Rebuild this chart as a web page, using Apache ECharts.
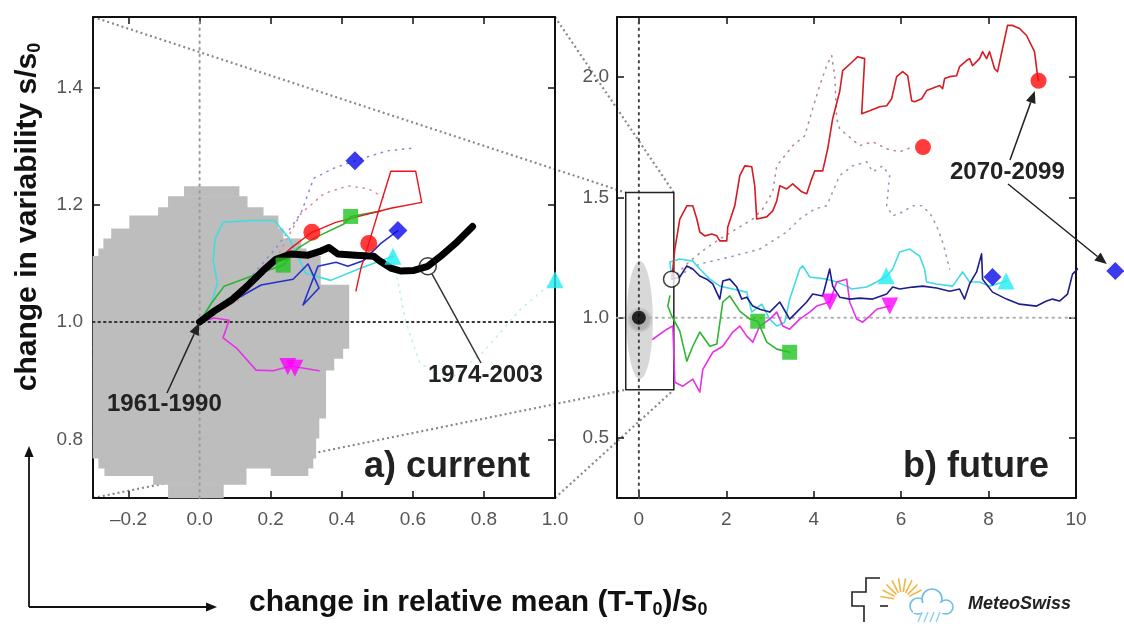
<!DOCTYPE html>
<html><head><meta charset="utf-8">
<script src="https://cdn.jsdelivr.net/npm/echarts@6/dist/echarts.min.js"></script>
<style>html,body{margin:0;padding:0;background:#fff}#c{width:1124px;height:624px}</style>
</head><body><div id="c"></div>
<script>
// ================= DATA =================
const leftXTicks = [-0.2, 0.0, 0.2, 0.4, 0.6, 0.8, 1.0];
const leftYTicks = [0.8, 1.0, 1.2, 1.4];
const rightXTicks = [0, 2, 4, 6, 8, 10];
const rightYTicks = [0.5, 1.0, 1.5, 2.0];
const leftXRange = [-0.3, 1.0];
const leftYRange = [0.7, 1.52];
const rightXRange = [-0.5, 10];
const rightYRange = [0.25, 2.25];
// zoom box drawn in panel b: [xMin, xMax, yMin, yMax]
const zoomBox = [-0.3, 0.8, 0.7, 1.52];

// natural variability (panel a), rows: [yTop, yBottom, xLeft, xRight]
const naturalVarRows = [
  [1.231, 1.214, -0.043, 0.111],
  [1.214, 1.195, -0.088, 0.134],
  [1.195, 1.181, -0.116, 0.179],
  [1.181, 1.159, -0.197, 0.221],
  [1.159, 1.142, -0.248, 0.235],
  [1.142, 1.125, -0.270, 0.285],
  [1.125, 1.112, -0.284, 0.300],
  [1.112, 1.063, -0.300, 0.340],
  [1.063, 0.955, -0.300, 0.420],
  [0.955, 0.938, -0.300, 0.403],
  [0.938, 0.918, -0.300, 0.378],
  [0.918, 0.836, -0.300, 0.355],
  [0.836, 0.802, -0.300, 0.336],
  [0.802, 0.768, -0.300, 0.327],
  [0.768, 0.751, -0.284, 0.319],
  [0.751, 0.738, -0.267, 0.131],
  [0.751, 0.738, 0.201, 0.305],
  [0.738, 0.723, -0.130, 0.131],
  [0.723, 0.700, -0.088, 0.067]
];
// natural variability (panel b): [cx, cy, rx, ry]
const naturalVarFuture = [[0.02, 0.99, 0.30, 0.245]];

// ---- panel a: current ----
const obsCurrent = [[0,1.0],[0.042,1.019],[0.089,1.037],[0.137,1.063],[0.179,1.088],[0.215,1.107],[0.257,1.116],[0.305,1.114],[0.341,1.121],[0.364,1.127],[0.389,1.116],[0.439,1.114],[0.49,1.112],[0.507,1.104],[0.538,1.092],[0.566,1.087],[0.603,1.088],[0.642,1.095],[0.678,1.112],[0.72,1.134],[0.768,1.163]];
const obsBaseline = [[0, 1.0]];
const obsRecent = [[0.642, 1.095]];

const curRed = [[0,1.0],[0.047,1.020],[0.103,1.044],[0.159,1.070],[0.201,1.095],[0.257,1.126],[0.316,1.153],[0.383,1.170],[0.448,1.180],[0.538,1.194],[0.625,1.204],[0.608,1.257],[0.538,1.257],[0.510,1.202],[0.476,1.134],[0.454,1.092],[0.440,1.053]];
const curGreen = [[0,1.0],[0.033,1.032],[0.069,1.061],[0.145,1.078],[0.235,1.097],[0.277,1.126],[0.322,1.143],[0.406,1.167],[0.425,1.180],[0.509,1.189]];
const curBlue = [[0,1.0],[0.047,1.017],[0.108,1.041],[0.173,1.063],[0.263,1.073],[0.305,1.099],[0.336,1.058],[0.291,1.029],[0.333,1.095],[0.384,1.102],[0.417,1.095],[0.462,1.105],[0.510,1.134],[0.558,1.156]];
const curCyan = [[0,1.0],[0.033,1.032],[0.05,1.066],[0.038,1.105],[0.044,1.143],[0.066,1.170],[0.145,1.173],[0.21,1.173],[0.252,1.143],[0.299,1.083],[0.369,1.071],[0.454,1.092],[0.544,1.112]];
const curMagenta = [[0,1.0],[0.041,1.007],[0.083,1.003],[0.066,0.973],[0.103,0.956],[0.159,0.918],[0.207,0.917],[0.257,0.925],[0.336,0.917]];
const curBlueDot = [[0,1.0],[0.117,1.058],[0.215,1.126],[0.285,1.185],[0.321,1.245],[0.377,1.262],[0.437,1.275],[0.529,1.292],[0.594,1.296]];
const curRedDot = [[0,1.0],[0.117,1.040],[0.215,1.108],[0.285,1.185],[0.35,1.219],[0.417,1.232],[0.476,1.227],[0.524,1.210]];
const curCyanDot = [[0.544,1.112],[0.58,1.0],[0.62,0.93],[0.70,0.90],[0.80,0.95],[0.90,1.02],[1.0,1.072]];

const curRedMarks = [[0.316,1.153],[0.476,1.134]];
const curGreenMarks = [[0.235,1.097],[0.425,1.180]];
const curBlueMarks = [[0.437,1.275],[0.558,1.156]];
const curCyanMarks = [[0.544,1.112],[1.0,1.072]];
const curMagentaMarks = [[0.248,0.924],[0.268,0.921]];

// ---- panel b: future ----
const futBaseline = [[0, 1.0]];
const futStart = [[0.747, 1.16]];
const futRed = [[0.754,1.160],[0.823,1.285],[0.937,1.410],[1.097,1.465],[1.234,1.465],[1.326,1.410],[1.394,1.356],[1.509,1.340],[1.669,1.348],[1.783,1.340],[1.851,1.319],[2.011,1.319],[2.034,1.377],[2.194,1.465],[2.309,1.590],[2.423,1.631],[2.583,1.627],[2.651,1.548],[2.697,1.410],[2.926,1.419],[3.063,1.444],[3.154,1.485],[3.223,1.548],[3.383,1.535],[3.520,1.556],[3.726,1.523],[3.840,1.515],[3.954,1.577],[4.023,1.610],[4.206,1.610],[4.320,1.702],[4.434,1.827],[4.594,1.940],[4.663,2.027],[4.891,2.065],[5.006,2.085],[5.166,2.077],[5.120,1.923],[5.097,1.848],[5.280,1.860],[5.509,1.877],[5.669,1.881],[5.783,1.910],[5.897,2.002],[6.034,2.023],[6.149,2.006],[6.240,1.902],[6.309,1.898],[6.469,1.910],[6.583,1.944],[6.880,1.965],[6.949,1.952],[6.994,1.994],[7.109,2.002],[7.269,2.006],[7.337,2.044],[7.497,2.069],[7.566,2.077],[7.634,2.048],[7.794,2.077],[7.863,2.106],[7.954,2.077],[8.023,2.106],[8.137,2.035],[8.206,2.023],[8.320,2.119],[8.434,2.215],[8.549,2.215],[8.709,2.202],[8.869,2.173],[9.051,2.106],[9.120,2.006],[9.143,1.985]];
const futBlue = [[0.754,1.160],[0.937,1.169],[1.097,1.215],[1.234,1.202],[1.394,1.173],[1.554,1.160],[1.691,1.140],[1.851,1.077],[1.920,1.152],[2.080,1.160],[2.240,1.127],[2.354,1.077],[2.469,1.085],[2.606,1.048],[2.766,1.035],[2.994,1.023],[3.223,1.065],[3.451,0.994],[3.611,1.023],[3.840,1.065],[3.977,1.098],[4.206,1.090],[4.366,1.202],[4.434,1.131],[4.594,1.085],[4.823,1.077],[5.051,1.081],[5.349,1.077],[5.669,1.098],[5.806,1.127],[5.966,1.119],[6.263,1.127],[6.491,1.131],[6.811,1.123],[7.109,1.110],[7.337,1.119],[7.451,1.077],[7.566,1.140],[7.726,1.190],[7.840,1.265],[7.863,1.160],[8.091,1.106],[8.411,1.077],[8.709,1.056],[9.097,1.048],[9.326,1.069],[9.463,1.077],[9.623,1.069],[9.806,1.098],[9.920,1.181],[10.080,1.210],[10.423,1.202],[10.903,1.194]];
const futCyan = [[0.754,1.160],[0.709,1.231],[0.937,1.244],[1.234,1.235],[1.394,1.202],[1.623,1.160],[1.851,1.131],[2.149,1.119],[2.469,1.106],[2.583,1.023],[2.811,1.056],[2.994,0.994],[3.154,0.965],[3.337,0.981],[3.451,1.077],[3.680,1.202],[3.749,1.215],[3.909,1.169],[4.297,1.160],[4.526,1.148],[4.754,1.131],[4.869,1.119],[5.211,1.127],[5.440,1.148],[5.669,1.173],[5.806,1.202],[5.966,1.273],[6.194,1.285],[6.423,1.256],[6.537,1.202],[6.583,1.148],[6.811,1.140],[7.177,1.131],[7.406,1.190],[7.566,1.148],[7.794,1.148],[8.023,1.131],[8.411,1.152]];
const futMagenta = [[0.32,0.910],[0.64,0.952],[0.777,0.965],[0.823,0.731],[1.006,0.715],[1.234,0.744],[1.394,0.690],[1.463,0.785],[1.691,0.856],[1.920,0.881],[2.149,0.940],[2.309,0.965],[2.469,0.923],[2.606,0.898],[2.766,0.965],[2.994,0.994],[3.154,1.023],[3.291,0.965],[3.451,0.952],[3.680,0.994],[3.909,1.023],[4.069,1.048],[4.366,1.065],[4.526,1.148],[4.754,1.160],[4.823,1.065],[4.983,0.994],[5.120,0.981],[5.280,1.006],[5.440,1.035],[5.737,1.048]];
const futGreen = [[0.709,1.090],[0.663,1.048],[0.754,1.006],[0.937,0.944],[1.097,0.819],[1.234,0.881],[1.394,0.940],[1.623,0.881],[1.783,0.890],[1.920,1.065],[2.080,1.090],[2.309,1.027],[2.537,0.994],[2.720,0.985],[2.926,0.898],[3.154,0.869],[3.451,0.856]];
const futRedDot = [[0.754,1.160],[1.166,1.235],[1.509,1.285],[1.851,1.327],[2.309,1.377],[2.606,1.410],[2.834,1.452],[3.063,1.523],[3.154,1.631],[3.520,1.715],[3.794,1.756],[3.977,1.869],[4.137,1.965],[4.297,2.048],[4.411,2.090],[4.480,2.006],[4.526,1.827],[4.594,1.785],[5.051,1.715],[5.349,1.731],[5.669,1.702],[5.966,1.690],[6.263,1.710]];
const futBlueDot = [[0.754,1.160],[1.394,1.223],[2.080,1.252],[2.766,1.285],[3.383,1.356],[3.680,1.410],[4.023,1.452],[4.297,1.465],[4.434,1.523],[4.594,1.590],[4.891,1.631],[5.211,1.648],[5.349,1.606],[5.577,1.631],[5.737,1.590],[5.669,1.465],[5.806,1.423],[6.034,1.440],[6.263,1.465],[6.491,1.465],[6.697,1.423],[6.811,1.381],[6.926,1.327],[6.994,1.285],[7.109,1.202]];

const futRedMarks = [[9.143,1.985],[6.50,1.709]];
const futGreenMarks = [[2.72,0.985],[3.45,0.856]];
const futBlueMarks = [[8.09,1.169],[10.9,1.194]];
const futCyanMarks = [[5.66,1.174],[8.40,1.152]];
const futMagentaMarks = [[4.37,1.065],[5.74,1.048]];

// ================= CHART =================
const FONT = '"Liberation Sans", Arial, Helvetica, sans-serif';
const chart = echarts.init(document.getElementById('c'), null, {renderer: 'canvas'});
const L = {xAxisIndex: 0, yAxisIndex: 0};
const R = {xAxisIndex: 2, yAxisIndex: 2};

function line(ax, data, color, width, type, extra) {
  return Object.assign({type: 'line', xAxisIndex: ax.xAxisIndex, yAxisIndex: ax.yAxisIndex, data: data,
    symbol: 'none', showSymbol: false, clip: false, silent: true, animation: false,
    lineStyle: {color: color, width: width, type: type || 'solid', cap: 'round', join: 'round'}}, extra || {});
}
function marks(ax, data, symbol, size, color, extra) {
  return Object.assign({type: 'scatter', xAxisIndex: ax.xAxisIndex, yAxisIndex: ax.yAxisIndex, data: data, z: 5,
    symbol: symbol, symbolSize: size, clip: false, silent: true, animation: false,
    itemStyle: {color: color}}, extra || {});
}
function fmt1(v) { return v < 0 ? '\u2013' + Math.abs(v).toFixed(1) : v.toFixed(1); }

function valAxis(gridIndex, pos, range, ticks, showLabel, fmt, margin) {
  return {
    type: 'value', gridIndex: gridIndex, position: pos, min: range[0], max: range[1],
    axisLine: {show: true, onZero: false, lineStyle: {color: '#111', width: 2}},
    axisTick: {show: true, inside: true, length: 7, customValues: ticks, lineStyle: {color: '#111', width: 1.5}},
    axisLabel: {show: showLabel, customValues: ticks, formatter: fmt, color: '#555',
      fontFamily: FONT, fontSize: 19, margin: margin},
    splitLine: {show: false}
  };
}

const C = {red: '#e8141e', green: '#2fb52f', blue: '#2233cc', navy: '#1d1d8e', cyan: '#3fdde2', magenta: '#e632e6'};

const series = [
  // ---------- panel a ----------
  {type: 'custom', xAxisIndex: 0, yAxisIndex: 0, data: naturalVarRows, silent: true, animation: false,
    renderItem: function (params, api) {
      const p1 = api.coord([api.value(2), api.value(0)]);
      const p2 = api.coord([api.value(3), api.value(1)]);
      return {type: 'rect', shape: {x: p1[0] - 0.3, y: p1[1] - 0.3, width: p2[0] - p1[0] + 0.6, height: p2[1] - p1[1] + 0.6},
        style: {fill: '#bdbdbd'}};
    }},
  line(L, [[leftXRange[0], 1.0], [leftXRange[1], 1.0]], '#333', 2, [1.5, 4]),
  line(L, [[0, leftYRange[0]], [0, leftYRange[1]]], '#9a9a9a', 2, [1.5, 5]),
  line(L, curBlueDot, '#8c8cd8', 1.6, [1.2, 6]),
  line(L, curRedDot, '#d89090', 1.6, [1.2, 6]),
  line(L, curCyanDot, '#b8f0f2', 1.6, [1.2, 6]),
  line(L, curCyan, C.cyan, 1.6),
  line(L, curMagenta, C.magenta, 1.6),
  line(L, curBlue, C.blue, 1.6),
  line(L, curGreen, C.green, 1.6),
  line(L, curRed, C.red, 1.4),
  line(L, obsCurrent, '#000', 7),
  marks(L, curMagentaMarks, 'triangle', 17, '#ff00ff', {symbolRotate: 180}),
  marks(L, curGreenMarks, 'rect', 15, '#22c422'),
  marks(L, curRedMarks, 'circle', 17, '#ff0a0a'),
  marks(L, curBlueMarks, 'diamond', 19, '#0a0ae8'),
  marks(L, curCyanMarks, 'triangle', 17, '#22eef0'),
  marks(L, obsRecent, 'circle', 17, 'rgba(255,255,255,0)', {itemStyle: {color: 'rgba(255,255,255,0)', borderColor: '#111', borderWidth: 1.5}}),
  // ---------- panel b ----------
  {type: 'custom', xAxisIndex: 2, yAxisIndex: 2, data: naturalVarFuture, silent: true, animation: false,
    renderItem: function (params, api) {
      const cx = api.value(0), cy = api.value(1), rx = api.value(2), ry = api.value(3);
      const pts = [];
      for (let i = 0; i < 72; i++) {
        const a = i / 72 * Math.PI * 2;
        pts.push(api.coord([cx + rx * Math.cos(a), cy + ry * Math.sin(a)]));
      }
      return {type: 'polygon', shape: {points: pts},
        style: {fill: new echarts.graphic.RadialGradient(0.5, 0.5, 0.5, [
          {offset: 0, color: '#a4a4a4'}, {offset: 0.7, color: '#b4b4b4'}, {offset: 1, color: '#d8d8d8'}])}};
    }},
  line(R, [[0, rightYRange[0]], [0, rightYRange[1]]], '#444', 2, [1.5, 5]),
  line(R, [[rightXRange[0], 1.0], [rightXRange[1], 1.0]], '#b0b0b0', 2, [1.5, 5]),
  line(R, [[zoomBox[0], zoomBox[2]], [zoomBox[1], zoomBox[2]], [zoomBox[1], zoomBox[3]], [zoomBox[0], zoomBox[3]], [zoomBox[0], zoomBox[2]]], '#222', 1.5),
  line(R, futRedDot, '#b58a9a', 1.6, [1.2, 6]),
  line(R, futBlueDot, '#9a9ac0', 1.6, [1.2, 6]),
  line(R, futCyan, C.cyan, 1.6),
  line(R, futGreen, C.green, 1.6),
  line(R, futMagenta, C.magenta, 1.6),
  line(R, futBlue, C.navy, 1.6),
  line(R, futRed, '#d41c22', 1.6),
  marks(R, futBaseline, 'circle', 14, '#000'),
  marks(R, futStart, 'circle', 16, '#fff', {itemStyle: {color: '#fff', borderColor: '#111', borderWidth: 1.5}}),
  marks(R, futMagentaMarks, 'triangle', 17, '#ff00ff', {symbolRotate: 180}),
  marks(R, futGreenMarks, 'rect', 15, '#22c422'),
  marks(R, futRedMarks, 'circle', 16, '#ff0a0a'),
  marks(R, futBlueMarks, 'diamond', 18, '#0a0ae8'),
  marks(R, futCyanMarks, 'triangle', 17, '#22eef0')
];

const option = {
  animation: false,
  backgroundColor: '#fff',
  grid: [
    {left: 93, top: 17, width: 462, height: 481},
    {left: 617, top: 17, width: 459, height: 481}
  ],
  xAxis: [
    valAxis(0, 'bottom', leftXRange, leftXTicks, true, fmt1, 12),
    valAxis(0, 'top', leftXRange, leftXTicks, false, fmt1, 8),
    valAxis(1, 'bottom', rightXRange, rightXTicks, true, function (v) { return String(v); }, 12),
    valAxis(1, 'top', rightXRange, rightXTicks, false, null, 8)
  ],
  yAxis: [
    valAxis(0, 'left', leftYRange, leftYTicks, true, function (v) { return v.toFixed(1); }, 10),
    valAxis(0, 'right', leftYRange, leftYTicks, false, null, 8),
    valAxis(1, 'left', rightYRange, rightYTicks, true, function (v) { return v.toFixed(1); }, 8),
    valAxis(1, 'right', rightYRange, rightYTicks, false, null, 8)
  ],
  series: series
};
chart.setOption(option);

// ================= ANNOTATIONS (anchored to data through the axes) =================
const pL = p => chart.convertToPixel({xAxisIndex: 0, yAxisIndex: 0}, p);
const pR = p => chart.convertToPixel({xAxisIndex: 2, yAxisIndex: 2}, p);

function arrow(from, to, gap, head, color, width) {
  const dx = to[0] - from[0], dy = to[1] - from[1], len = Math.hypot(dx, dy);
  const ux = dx / len, uy = dy / len;
  const tip = [to[0] - ux * gap, to[1] - uy * gap];
  const els = [];
  if (head > 0) {
    const base = [tip[0] - ux * head, tip[1] - uy * head];
    const w = head * 0.42;
    els.push({type: 'line', z: 100, shape: {x1: from[0], y1: from[1], x2: base[0], y2: base[1]}, style: {stroke: color, lineWidth: width}});
    els.push({type: 'polygon', z: 100, shape: {points: [tip, [base[0] - uy * w, base[1] + ux * w], [base[0] + uy * w, base[1] - ux * w]]}, style: {fill: color}});
  } else {
    els.push({type: 'line', z: 100, shape: {x1: from[0], y1: from[1], x2: tip[0], y2: tip[1]}, style: {stroke: color, lineWidth: width}});
  }
  return els;
}
function connector(a, b) {
  return {type: 'line', z: 0, shape: {x1: a[0], y1: a[1], x2: b[0], y2: b[1]},
    style: {stroke: '#8a8a8a', lineWidth: 2.2, lineDash: [2, 3]}};
}
function txt(x, y, text, size, align, extra) {
  return Object.assign({type: 'text', z: 100, x: x, y: y,
    style: {text: text, font: 'bold ' + size + 'px ' + FONT, fill: '#222', textAlign: align || 'left', textVerticalAlign: 'middle'}}, extra || {});
}

const g = [];
// zoom connectors
g.push(connector(pL([leftXRange[0], leftYRange[1]]), pR([zoomBox[0], zoomBox[3]])));
g.push(connector(pL([leftXRange[1], leftYRange[1]]), pR([zoomBox[1], zoomBox[3]])));
g.push(connector(pL([leftXRange[0], leftYRange[0]]), pR([zoomBox[0], zoomBox[2]])));
g.push(connector(pL([leftXRange[1], leftYRange[0]]), pR([zoomBox[1], zoomBox[2]])));

// labels and arrows
g.push(txt(107, 404, '1961-1990', 24));
g.push.apply(g, arrow([167, 393], pL(obsBaseline[0]), 1, 12, '#222', 1.5));
g.push(txt(428, 375, '1974-2003', 24));
g.push.apply(g, arrow([481, 363], pL(obsRecent[0]), 9, 0, '#333', 1.5));
g.push(txt(950, 172, '2070-2099', 24));
g.push.apply(g, arrow([1010, 160], pR(futRedMarks[0]), 11, 12, '#222', 1.5));
g.push.apply(g, arrow([1008, 184], pR(futBlueMarks[1]), 11, 12, '#222', 1.5));

g.push(txt(364, 467, 'a) current', 36));
g.push(txt(903, 467, 'b) future', 36));

// axis titles
const sub = {fontSize: 18, fontWeight: 'bold', fontFamily: FONT, fill: '#111', padding: [14, 0, 0, 0]};
g.push({type: 'text', z: 100, x: 249, y: 603, style: {
  text: 'change in relative mean (T-T{s|0})/s{s|0}', font: 'bold 30px ' + FONT, fill: '#111',
  textVerticalAlign: 'middle', rich: {s: sub}}});
g.push({type: 'text', z: 100, x: 28, y: 217, rotation: Math.PI / 2, style: {
  text: 'change in variability s/s{s|0}', font: 'bold 30px ' + FONT, fill: '#111',
  textAlign: 'center', textVerticalAlign: 'middle', rich: {s: sub}}});

// corner arrows
g.push.apply(g, arrow([29, 607], [29, 446], 0, 11, '#111', 1.8));
g.push.apply(g, arrow([29, 607], [217, 607], 0, 11, '#111', 1.8));

// MeteoSwiss logo
g.push({type: 'polyline', z: 100, shape: {points: [[880, 578], [866, 578], [866, 592], [852, 592], [852, 606], [864, 606], [864, 622]]}, style: {stroke: '#222', lineWidth: 1.6, fill: null}});
g.push({type: 'polyline', z: 100, shape: {points: [[880, 606], [888, 606]]}, style: {stroke: '#222', lineWidth: 1.6}});
for (let i = 0; i < 9; i++) {
  const a = Math.PI * (1.05 + i * 0.1);
  const cx = 902, cy = 600;
  g.push({type: 'line', z: 100, shape: {x1: cx + Math.cos(a) * 8, y1: cy + Math.sin(a) * 8, x2: cx + Math.cos(a) * 22, y2: cy + Math.sin(a) * 22},
    style: {stroke: '#f3b445', lineWidth: 1.6}});
}
g.push({type: 'circle', z: 101, shape: {cx: 918, cy: 606, r: 8}, style: {fill: '#fff', stroke: '#6cc0e8', lineWidth: 1.6}});
g.push({type: 'circle', z: 101, shape: {cx: 932, cy: 599, r: 10}, style: {fill: '#fff', stroke: '#6cc0e8', lineWidth: 1.6}});
g.push({type: 'circle', z: 101, shape: {cx: 946, cy: 607, r: 7}, style: {fill: '#fff', stroke: '#6cc0e8', lineWidth: 1.6}});
g.push({type: 'rect', z: 102, shape: {x: 913, y: 603, width: 36, height: 10}, style: {fill: '#fff'}});
for (let i = 0; i < 4; i++) {
  g.push({type: 'line', z: 102, shape: {x1: 922 + i * 6, y1: 612, x2: 918 + i * 6, y2: 622}, style: {stroke: '#8fd0ee', lineWidth: 1.4}});
}
g.push({type: 'text', z: 100, x: 968, y: 604, style: {text: 'MeteoSwiss', font: 'italic bold 18px ' + FONT, fill: '#222', textVerticalAlign: 'middle'}});

chart.setOption({graphic: {elements: g}});
</script>
</body></html>
